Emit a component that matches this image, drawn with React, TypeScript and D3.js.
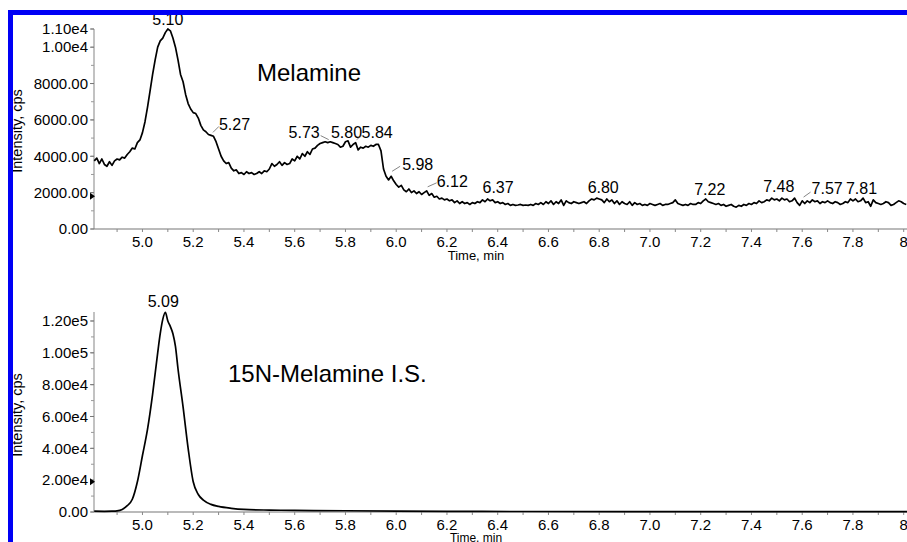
import React from 'react';
import * as d3 from 'd3';

// ---------- DATA ----------
const melamineStart = 4.81;
const melamineStep = 0.01;
const melamineIntensity = [
  3750, 3900, 3600, 3850, 3550, 3450, 3700, 3500, 3750, 3850,
  3800, 3950, 3900, 4100, 4250, 4450, 4400, 4750, 4900, 5300,
  5900, 6700, 7600, 8500, 9300, 10000, 10350, 10500, 10800, 11000,
  10900, 10500, 10000, 9300, 8500, 8100, 7400, 6900, 6600, 6400,
  6350, 6100, 5700, 5450, 5350, 5200, 5150, 5100, 4800, 4400,
  4000, 3750, 3600, 3650, 3350, 3200, 3250, 3050, 3100, 3000,
  3150, 3050, 3100, 3000, 3050, 3150, 3050, 3200, 3150, 3300,
  3600, 3450, 3550, 3700, 3500, 3650, 3550, 3600, 3850, 3750,
  4000, 3850, 4150, 4000, 4250, 4100, 4400, 4450, 4600, 4700,
  4750, 4800, 4750, 4800, 4750, 4700, 4650, 4500, 4550, 4800,
  4850, 4500, 4650, 4750, 4350, 4500, 4450, 4550, 4500, 4600,
  4550, 4650, 4650, 4300, 3300, 2900, 2700, 2900, 2650, 2450,
  2300, 2400, 2150, 2050, 2200, 2000, 2100, 1950, 2050, 1900,
  2000, 2100, 1850, 1950, 1750, 1800, 1650, 1700, 1600, 1650,
  1550, 1600, 1450, 1550, 1400, 1500, 1400, 1450, 1350, 1450,
  1400, 1500, 1450, 1600, 1500, 1650, 1550, 1600, 1450, 1500,
  1400, 1450, 1350, 1400, 1300, 1350, 1300, 1320, 1350, 1300,
  1320, 1300, 1350, 1300, 1400, 1350, 1450, 1350, 1500, 1400,
  1550, 1350, 1500, 1400, 1600, 1300, 1550, 1450, 1400, 1500,
  1450, 1400, 1450, 1500, 1400, 1550, 1650, 1600, 1700, 1650,
  1600, 1450, 1650, 1500, 1600, 1400, 1550, 1350, 1500, 1400,
  1350, 1500, 1300, 1450, 1350, 1400, 1300, 1350, 1300, 1400,
  1350, 1300, 1350, 1400, 1300, 1350, 1350, 1400, 1450, 1600,
  1400, 1350, 1300, 1350, 1300, 1400, 1350, 1350, 1450, 1400,
  1550, 1650, 1500, 1450, 1400, 1350, 1400, 1300, 1350, 1250,
  1300, 1350, 1250, 1200, 1300, 1250, 1350, 1300, 1400, 1350,
  1450, 1400, 1550, 1450, 1500, 1600, 1550, 1700, 1600, 1650,
  1550, 1700, 1600, 1650, 1500, 1550, 1700, 1450, 1300, 1550,
  1400, 1550, 1450, 1600, 1500, 1550, 1400, 1500, 1450, 1550,
  1450, 1400, 1500, 1450, 1350, 1400, 1500, 1450, 1650, 1550,
  1650, 1500, 1550, 1700, 1450, 1500, 1250, 1600, 1450, 1400,
  1350, 1400, 1500, 1450, 1300, 1350, 1450, 1550, 1500, 1400,
  1350,
];

const isTimes = [4.81, 4.85, 4.88, 4.90, 4.92, 4.94, 4.96, 4.98, 5.00, 5.02, 5.04, 5.06, 5.07, 5.08, 5.09, 5.10, 5.11, 5.12, 5.13, 5.14, 5.16, 5.18, 5.20, 5.22, 5.24, 5.27, 5.30, 5.35, 5.40, 5.50, 5.60, 5.80, 6.00, 6.20, 6.50, 7.00, 7.50, 8.02];
const isIntensity = [500, 400, 500, 700, 1600, 4000, 8000, 19000, 35500, 52000, 74000, 100000, 112000, 121000, 125500, 120000, 116500, 112000, 104000, 90000, 66000, 40000, 19000, 11000, 7500, 4800, 3500, 2300, 1600, 1200, 1000, 800, 600, 400, 300, 200, 200, 200];

const xTickValues = [5.0, 5.2, 5.4, 5.6, 5.8, 6.0, 6.2, 6.4, 6.6, 6.8, 7.0, 7.2, 7.4, 7.6, 7.8, 8.0];
const xTickLabels = ['5.0', '5.2', '5.4', '5.6', '5.8', '6.0', '6.2', '6.4', '6.6', '6.8', '7.0', '7.2', '7.4', '7.6', '7.8', '8'];

const topYTicks = [0, 2000, 4000, 6000, 8000, 10000, 11000];
const topYTickLabels = ['0.00', '2000.00', '4000.00', '6000.00', '8000.00', '1.00e4', '1.10e4'];
const bottomYTicks = [0, 20000, 40000, 60000, 80000, 100000, 120000];
const bottomYTickLabels = ['0.00', '2.00e4', '4.00e4', '6.00e4', '8.00e4', '1.00e5', '1.20e5'];

const melaminePeaks = [5.10, 5.27, 5.73, 5.80, 5.84, 5.98, 6.12, 6.37, 6.80, 7.22, 7.48, 7.57, 7.81];
const melaminePeakLabels = ['5.10', '5.27', '5.73', '5.80', '5.84', '5.98', '6.12', '6.37', '6.80', '7.22', '7.48', '7.57', '7.81'];
const isPeaks = [5.09];
const isPeakLabels = ['5.09'];

const panelTitles = ['Melamine', '15N-Melamine I.S.'];
const yAxisTitle = 'Intensity, cps';
const xAxisTitle = 'Time, min';

// ---------- LAYOUT (pixel offsets, not data) ----------
type LabelLayout = { dx: number; dy: number; anchor: 'start' | 'middle' | 'end'; leader?: [number, number, number, number] };
const melamineLabelLayout: LabelLayout[] = [
  { dx: 0, dy: -4, anchor: 'middle' },
  { dx: 8, dy: -5, anchor: 'start', leader: [2, -3, 8, -9] },
  { dx: -8, dy: -5, anchor: 'end', leader: [-7, -7, 1, -3] },
  { dx: 1, dy: -4, anchor: 'middle' },
  { dx: 6, dy: -5, anchor: 'start', leader: [1, -3, 6, -7] },
  { dx: 11, dy: -6, anchor: 'start', leader: [1, -5, 9, -10] },
  { dx: 10, dy: -4, anchor: 'start', leader: [1, -4, 10, -8] },
  { dx: 8, dy: -8, anchor: 'middle' },
  { dx: 4, dy: -6, anchor: 'middle' },
  { dx: 4, dy: -4, anchor: 'middle' },
  { dx: 7, dy: -6, anchor: 'middle' },
  { dx: 17, dy: -4, anchor: 'start', leader: [9, -1, 16, -6] },
  { dx: 6, dy: -5, anchor: 'middle' },
];
const isLabelLayout: LabelLayout[] = [{ dx: -2, dy: -5, anchor: 'middle' }];

const W = 907;
const H = 542;
const X0 = 94;
const X1 = 907;
const FONT = '"Liberation Sans", Arial, Helvetica, sans-serif';

const xScale = d3.scaleLinear().domain([4.809, 8.013]).range([X0, X1]);

type Pt = { t: number; v: number };

const melamineData: Pt[] = melamineIntensity.map((v, i) => ({ t: melamineStart + i * melamineStep, v }));
const isData: Pt[] = isTimes.map((t, i) => ({ t, v: isIntensity[i] }));

function valueAt(data: Pt[], t: number): number {
  const bis = d3.bisector((d: Pt) => d.t).left;
  const i = bis(data, t - 1e-9);
  if (i <= 0) return data[0].v;
  if (i >= data.length) return data[data.length - 1].v;
  const a = data[i - 1];
  const b = data[i];
  const f = (t - a.t) / (b.t - a.t);
  return a.v + f * (b.v - a.v);
}

type PanelProps = {
  data: Pt[];
  yMax: number;
  yTop: number;
  yBottom: number;
  yTicks: number[];
  yTickLabels: string[];
  minorStep: number;
  peaks: number[];
  peakLabels: string[];
  layout: LabelLayout[];
  title: string;
  titleX: number;
  titleY: number;
  markerValue: number;
  yTitleCenter: number;
  xTitleOffset: number;
  xTitleSize: number;
  smooth: boolean;
};

function Panel(p: PanelProps) {
  const y = d3.scaleLinear().domain([0, p.yMax]).range([p.yBottom, p.yTop]);
  const line = d3
    .line<Pt>()
    .x((d) => xScale(d.t))
    .y((d) => y(d.v))
    .curve(p.smooth ? d3.curveMonotoneX : d3.curveLinear);
  const minorY = d3.range(0, p.yMax + 1, p.minorStep);
  const minorX = d3.range(49, 81).map((i) => i / 10);
  const my = y(p.markerValue);
  return (
    <g>
      {/* y axis */}
      <line x1={X0} x2={X0} y1={p.yTop} y2={p.yBottom} stroke="#999" strokeWidth={1.2} />
      {minorY.map((v, i) => (
        <line key={'my' + i} x1={X0 - 3} x2={X0} y1={y(v)} y2={y(v)} stroke="#999" strokeWidth={1} />
      ))}
      {p.yTicks.map((v, i) => (
        <g key={'yt' + i}>
          <line x1={X0 - 4} x2={X0} y1={y(v)} y2={y(v)} stroke="#777" strokeWidth={1} />
          <text x={X0 - 6} y={y(v)} dy="0.35em" textAnchor="end" fontSize={15} fontFamily={FONT} fill="#000">
            {p.yTickLabels[i]}
          </text>
        </g>
      ))}
      {/* x axis */}
      <line x1={X0} x2={X1} y1={p.yBottom} y2={p.yBottom} stroke="#777" strokeWidth={1.2} />
      {minorX.map((t, i) => (
        <line key={'mx' + i} x1={xScale(t)} x2={xScale(t)} y1={p.yBottom} y2={p.yBottom + 3} stroke="#888" strokeWidth={1} />
      ))}
      {xTickValues.map((t, i) => (
        <text key={'xt' + i} x={xScale(t)} y={p.yBottom + 18} textAnchor="middle" fontSize={15} fontFamily={FONT} fill="#000">
          {xTickLabels[i]}
        </text>
      ))}
      <text x={476} y={p.yBottom + p.xTitleOffset} textAnchor="middle" fontSize={p.xTitleSize} fontFamily={FONT} fill="#000">
        {xAxisTitle}
      </text>
      <text
        transform={`translate(22,${p.yTitleCenter}) rotate(-90)`}
        textAnchor="middle"
        fontSize={14.5}
        fontFamily={FONT}
        fill="#000"
      >
        {yAxisTitle}
      </text>
      {/* marker */}
      <path d={`M${X0 - 4},${my - 3.5} L${X0 + 1},${my} L${X0 - 4},${my + 3.5} Z`} fill="#000" />
      {/* trace */}
      <path d={line(p.data) || ''} fill="none" stroke="#000" strokeWidth={1.7} strokeLinejoin="round" />
      {/* peak labels */}
      {p.peaks.map((t, i) => {
        const px = xScale(t);
        const py = y(valueAt(p.data, t));
        const L = p.layout[i];
        return (
          <g key={'pk' + i}>
            {L.leader && (
              <line
                x1={px + L.leader[0]}
                y1={py + L.leader[1]}
                x2={px + L.leader[2]}
                y2={py + L.leader[3]}
                stroke="#666"
                strokeWidth={0.8}
              />
            )}
            <text x={px + L.dx} y={py + L.dy} textAnchor={L.anchor} fontSize={16} fontFamily={FONT} fill="#000">
              {p.peakLabels[i]}
            </text>
          </g>
        );
      })}
      <text x={p.titleX} y={p.titleY} fontSize={24} fontFamily={FONT} fill="#000">
        {p.title}
      </text>
    </g>
  );
}

export default function App() {
  return (
    <svg
      width={W}
      height={H}
      viewBox={`0 0 ${W} ${H}`}
      style={{ position: 'absolute', left: 0, top: 0, background: '#fff', display: 'block' }}
    >
      <rect x={0} y={0} width={W} height={H} fill="#fff" />
      <Panel
        data={melamineData}
        yMax={11000}
        yTop={29}
        yBottom={229}
        yTicks={topYTicks}
        yTickLabels={topYTickLabels}
        minorStep={1000}
        peaks={melaminePeaks}
        peakLabels={melaminePeakLabels}
        layout={melamineLabelLayout}
        title={panelTitles[0]}
        titleX={257}
        titleY={81}
        markerValue={1800}
        yTitleCenter={131}
        xTitleOffset={31}
        xTitleSize={13}
        smooth={false}
      />
      <Panel
        data={isData}
        yMax={125650}
        yTop={312}
        yBottom={512}
        yTicks={bottomYTicks}
        yTickLabels={bottomYTickLabels}
        minorStep={10000}
        peaks={isPeaks}
        peakLabels={isPeakLabels}
        layout={isLabelLayout}
        title={panelTitles[1]}
        titleX={228}
        titleY={382}
        markerValue={19000}
        yTitleCenter={415}
        xTitleOffset={30}
        xTitleSize={12}
        smooth={true}
      />
      {/* blue frame */}
      <rect x={8} y={10} width={W - 8} height={5} fill="#0000f5" />
      <rect x={8} y={10} width={5} height={H - 10} fill="#0000f5" />
    </svg>
  );
}
